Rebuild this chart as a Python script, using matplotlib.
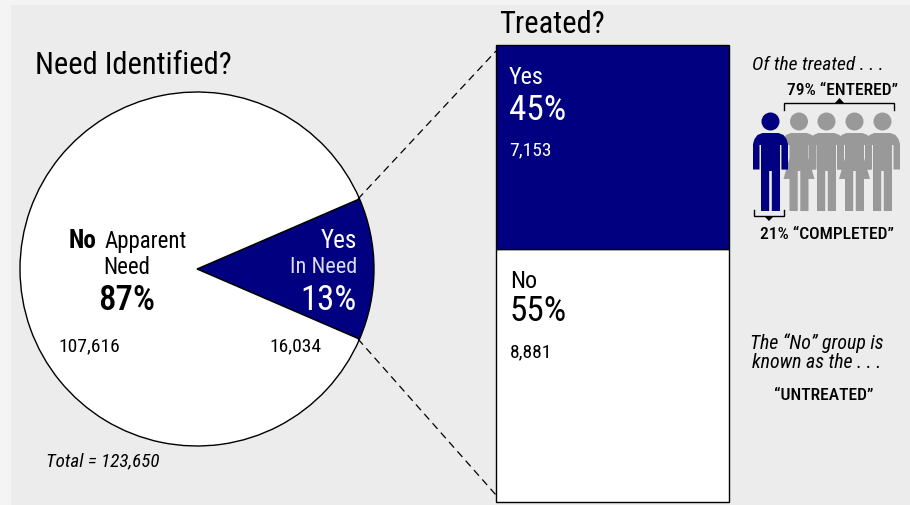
import matplotlib
matplotlib.use("Agg")
import matplotlib.pyplot as plt
from matplotlib.patches import Polygon, Circle, Rectangle

plt.rcParams["font.family"] = ["Roboto Condensed", "Liberation Sans", "DejaVu Sans"]

# values
need_labels = ["Yes", "No"]
need_counts = [16034, 107616]
treated_labels = ["No", "Yes"]
treated_counts = [8881, 7153]
total = 123650

NAVY = "#000080"
GREY = "#999999"
PANEL = "#ececec"
OUTER = "#f4f4f4"
W, H = 910, 505

fig = plt.figure(figsize=(W / 100, H / 100), dpi=100, facecolor=OUTER)


def axes_px(x0, y0, x1, y1):
    # axes from pixel box, y counted from the top
    return fig.add_axes([x0 / W, 1 - y1 / H, (x1 - x0) / W, (y1 - y0) / H])


# backdrop panel
bg = axes_px(0, 0, W, H)
bg.set_xlim(0, W)
bg.set_ylim(H, 0)
bg.axis("off")
bg.add_patch(Rectangle((11, 5), W - 11, H - 5, fc=PANEL, ec="none"))

# pie
ax_pie = axes_px(20, 92, 374, 446)
wedges, _ = ax_pie.pie(
    need_counts,
    colors=[NAVY, "white"],
    startangle=-need_counts[0] / total * 180,
    wedgeprops={"edgecolor": "black", "linewidth": 1.0},
    radius=1.0,
)
for w in wedges:
    w.set_clip_on(False)
ax_pie.set_xlim(-1, 1)
ax_pie.set_ylim(-1, 1)
ax_pie.patch.set_alpha(0)

# stacked bar for the treated split
ax_bar = axes_px(496, 45, 729, 502)
ax_bar.bar([0], [treated_counts[0]], width=1, color="white", edgecolor="black", linewidth=1.0)
ax_bar.bar([0], [treated_counts[1]], width=1, bottom=[treated_counts[0]],
           color=NAVY, edgecolor="black", linewidth=1.0)
ax_bar.set_xlim(-0.5, 0.5)
ax_bar.set_ylim(0, sum(treated_counts))
ax_bar.axis("off")
for p in ax_bar.patches:
    p.set_clip_on(False)

# top layer for text, connectors and the figures
top = axes_px(0, 0, W, H)
top.set_xlim(0, W)
top.set_ylim(H, 0)
top.axis("off")
top.patch.set_alpha(0)

# dashed connectors
top.plot([358, 496], [199, 51], color="black", lw=0.9, ls=(0, (6, 4)))
top.plot([358, 496], [339, 495], color="black", lw=0.9, ls=(0, (6, 4)))


def txt(x, y, s, size, color="black", ha="left", **kw):
    top.text(x, y, s, fontsize=size, color=color, ha=ha, va="baseline", **kw)


txt(35, 74, "Need Identified?", 22)
txt(499, 33, "Treated?", 22)

# pie labels
txt(69, 248, "No", 18, fontweight="bold")
txt(105, 248, "Apparent", 16.5)
txt(127, 274, "Need", 16.5, ha="center")
txt(127, 310, "87%", 25, fontweight="medium", ha="center")
txt(58, 351, "107,616", 14)
txt(357, 248, "Yes", 18, color="white", ha="right")
txt(357, 273, "In Need", 16, color="#dcdcf0", ha="right")
txt(357, 310, "13%", 25, color="white", ha="right")
txt(269, 351, "16,034", 14)
txt(46, 466, "Total = 123,650", 13.7, style="italic")

# bar labels
txt(509, 84, "Yes", 17.5, color="white")
txt(509, 120, "45%", 25.5, color="white")
txt(509, 155, "7,153", 14, color="white")
txt(510, 288, "No", 17.5)
txt(510, 321, "55%", 25.5)
txt(510, 357, "8,881", 14)

# right notes
txt(752, 70, "Of the treated . . .", 14, style="italic")
txt(787, 95, "79% “ENTERED”", 12.6, fontweight="medium")
txt(760, 239, "21% “COMPLETED”", 12.6, fontweight="medium")
txt(884, 349, "The “No” group is", 14.3, ha="right", style="italic")
txt(752, 368, "known as the . . .", 14.3, style="italic")
txt(824, 400, "“UNTREATED”", 12.6, ha="center", fontweight="medium")


def body_outline(cx, skirt):
    # half outline of a figure, mirrored around cx
    right = [
        (0, 133), (8, 133), (13, 135), (16, 139), (17.5, 144),
        (17.5, 169.5), (11, 169.5), (11, 145), (9.5, 145),
    ]
    if skirt:
        right += [(9.5, 158), (15.5, 179), (9.5, 179)]
    right += [(9.5, 211), (1.3, 211), (1.3, 171), (0, 171)]
    left = [(-x, y) for x, y in reversed(right[1:-1])]
    return [(cx + x, y) for x, y in right + left]


def person(cx, color, skirt=False, zorder=3):
    top.add_patch(Circle((cx, 121.5), 9, fc=color, ec="none", zorder=zorder))
    top.add_patch(Polygon(body_outline(cx, skirt), closed=True, fc=color, ec="none", zorder=zorder))


person(799, GREY, skirt=True)
person(826.5, GREY)
person(854.5, GREY, skirt=True)
person(882.5, GREY)
person(770.5, NAVY, zorder=4)

# brackets above and below the figures
top.plot([784, 784, 894, 894], [110, 103, 103, 110], color="black", lw=1.0, solid_joinstyle="miter")
top.add_patch(Polygon([(835, 103), (844, 103), (839.5, 98)], fc="black", ec="none"))
top.plot([753.5, 753.5, 784, 784], [210, 216, 216, 210], color="black", lw=1.0, solid_joinstyle="miter")
top.add_patch(Polygon([(764, 216), (774, 216), (769, 221)], fc="black", ec="none"))

fig.savefig("out.png", dpi=100, facecolor=OUTER)
